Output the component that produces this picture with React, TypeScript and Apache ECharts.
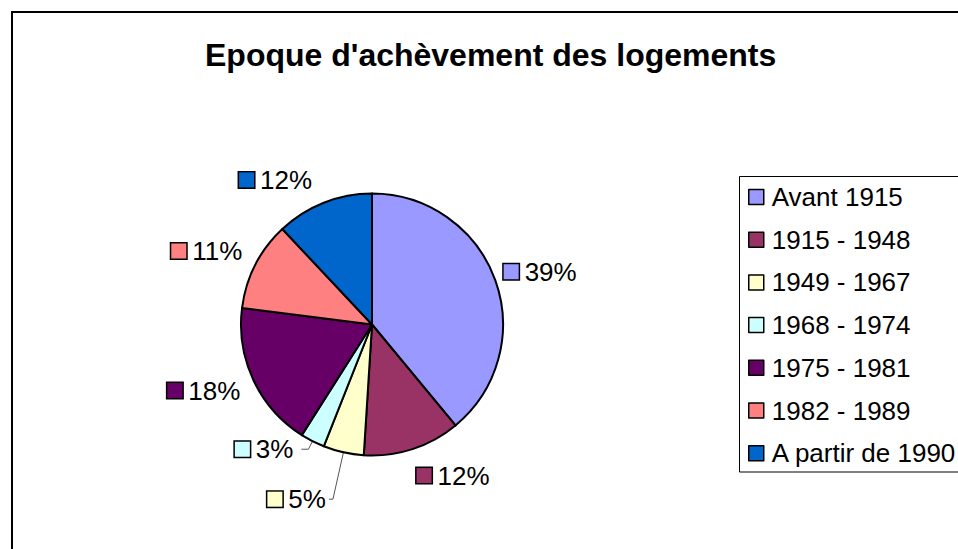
import React, { useEffect, useRef } from "react";
import * as echarts from "echarts";

const TITLE = "Epoque d'achèvement des logements";
const CATEGORIES = [
  "Avant 1915",
  "1915 - 1948",
  "1949 - 1967",
  "1968 - 1974",
  "1975 - 1981",
  "1982 - 1989",
  "A partir de 1990",
];
const VALUES = [39, 12, 5, 3, 18, 11, 12];
const COLORS = ["#9999FF", "#993366", "#FFFFCC", "#CCFFFF", "#660066", "#FF8080", "#0066CC"];

// label nudges (styling only), [dx, dy]
const LABEL_NUDGE: (number[] | null)[] = [
  [-1, -5],
  [1, 17],
  null,
  null,
  [-4, 6],
  [-4, -9.5],
  [-8, -13.5],
];

const FONT = "'Liberation Sans', Arial, Helvetica, sans-serif";

export default function App() {
  const ref = useRef<HTMLDivElement>(null);
  useEffect(() => {
    if (!ref.current) return;
    const chart = echarts.init(ref.current, null, { renderer: "svg" });
    const rich: Record<string, any> = {
      t: { fontSize: 26, fontFamily: FONT, color: "#000", padding: [0, 0, 0, 6], lineHeight: 26 },
    };
    COLORS.forEach((c, i) => {
      rich["s" + i] = {
        width: 15,
        height: 15,
        backgroundColor: c,
        borderColor: "#000",
        borderWidth: 1.5,
      };
    });
    const data = CATEGORIES.map((name, i) => {
      const item: any = { name, value: VALUES[i], itemStyle: { color: COLORS[i] } };
      if (i === 2) {
        item.labelLine = { show: true, length: 48, length2: 4 };
        item.label = { distanceToLabelLine: 3 };
      }
      if (i === 3) {
        item.labelLine = { show: true, length: 9, length2: 7 };
        item.label = { distanceToLabelLine: 8 };
      }
      return item;
    });
    chart.setOption({
      animation: false,
      backgroundColor: "#fff",
      title: {
        text: TITLE,
        left: 205,
        top: 39,
        padding: 0,
        textStyle: { fontSize: 32, fontWeight: "bold", fontFamily: FONT, color: "#000" },
      },
      graphic: [
        {
          type: "rect",
          shape: { x: 12, y: 12, width: 1000, height: 600 },
          style: { fill: "none", stroke: "#000", lineWidth: 2 },
          z: -1,
        },
        {
          type: "rect",
          shape: { x: 739.5, y: 176.5, width: 300, height: 295.5 },
          style: { fill: "none", stroke: "#000", lineWidth: 1 },
          z: -1,
        },
      ],
      legend: {
        orient: "vertical",
        left: 748,
        top: 184,
        padding: 0,
        itemWidth: 15,
        itemHeight: 15,
        itemGap: 16.7,
        icon: "rect",
        itemStyle: { borderColor: "#000", borderWidth: 1.5 },
        textStyle: { fontSize: 26, fontFamily: FONT, color: "#000", lineHeight: 26, padding: [0, 0, 0, 3] },
        data: CATEGORIES,
      },
      series: [
        {
          type: "pie",
          center: [372, 324.5],
          radius: 131,
          startAngle: 90,
          clockwise: true,
          avoidLabelOverlap: false,
          itemStyle: { borderColor: "#000", borderWidth: 2 },
          label: {
            show: true,
            position: "outside",
            distanceToLabelLine: 0,
            formatter: (p: any) => `{s${p.dataIndex}|}{t|${p.value}%}`,
            rich,
          },
          labelLine: {
            show: false,
            length: 10,
            length2: 0,
            smooth: false,
            lineStyle: { color: "#555", width: 1 },
          },
          labelLayout: (params: any) => {
            const n = LABEL_NUDGE[params.dataIndex];
            if (!n) return undefined;
            return { dx: n[0], dy: n[1] };
          },
          emphasis: { disabled: true },
          data,
        },
      ],
    });
    return () => chart.dispose();
  }, []);
  return (
    <div
      ref={ref}
      style={{ position: "absolute", left: 0, top: 0, width: 958, height: 549 }}
    />
  );
}
